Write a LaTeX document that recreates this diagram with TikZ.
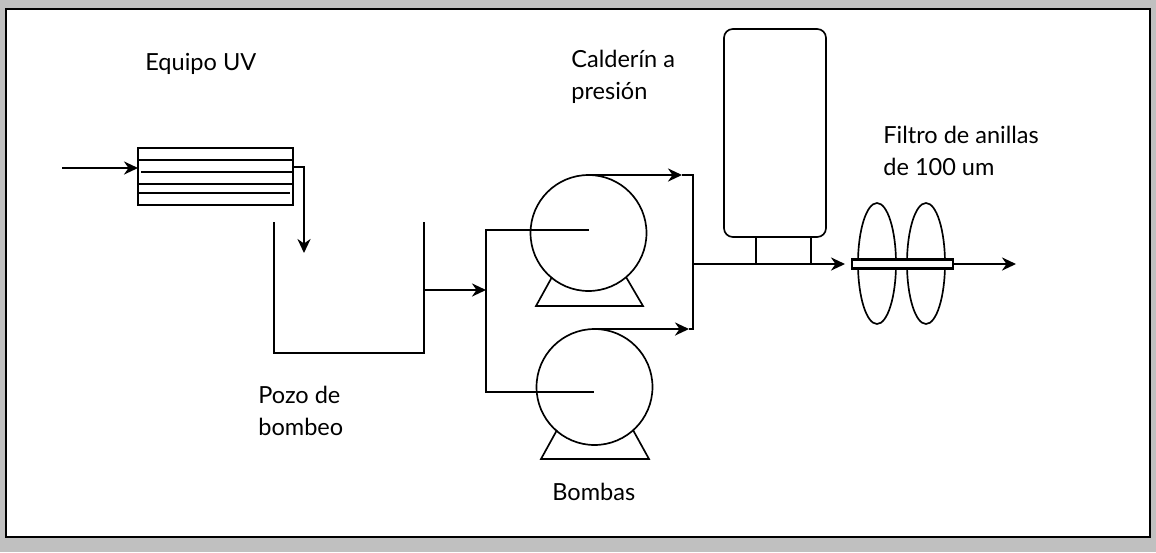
\documentclass[tikz,border=0pt]{standalone}
\usepackage{fontspec}
\setmainfont{Lato}
\usetikzlibrary{arrows.meta, shapes.geometric}
\tikzset{
	pipe/.style={draw, line width=0.95pt},
	flow/.style={pipe, -{Stealth[length=8pt, width=7.5pt]}},
	label/.style={draw=none, inner sep=0pt, anchor=north west, align=left, font=\fontsize{13.4pt}{18.2pt}\selectfont},
	pumpbody/.style={circle, draw, line width=0.95pt, minimum size=2.32cm, inner sep=0pt, outer sep=0pt},
	lobe/.style={ellipse, draw, line width=0.95pt, minimum width=0.76cm, minimum height=2.42cm, inner sep=0pt, outer sep=0pt}
}
\definecolor{panelgray}{RGB}{192,192,192}

\begin{document}
\begin{tikzpicture}[x=0.02cm, y=-0.02cm]
			\fill[panelgray] (0,0) rectangle (1156,552);
			\draw[fill=white, line width=1.2pt] (6,9) rectangle (1150,537);
			
			% equipo UV
			\node[draw, line width=1.1pt, minimum width=3.1cm, minimum height=1.14cm, inner sep=0pt, outer sep=0pt] (uv) at (215.5,176.5) {};
			\draw[pipe] (138,160) -- (293,160);
			\draw[pipe] (141,172) -- (293,172);
			\draw[pipe] (138,184) -- (293,184);
			\draw[pipe] (138,193) -- (290,193);
			
			\coordinate (inlet) at (62,168);
			\coordinate (uvin) at (138,168);
			\coordinate (uvout) at (293,167);
			\coordinate (uvbend) at (304,167);
			\coordinate (drop) at (304,253);
			\draw[flow] (inlet) -- (uvin);
			\draw[flow] (uvout) -- (uvbend) -- (drop);
			
			% pozo
			\coordinate (wellA) at (274,222);
			\coordinate (wellB) at (274,353);
			\coordinate (wellC) at (424,353);
			\coordinate (wellD) at (424,222);
			\coordinate (wellout) at (424,290);
			\draw[pipe, line width=1.1pt] (wellA) -- (wellB) -- (wellC) -- (wellD);
			
			% bombas
			\node[pumpbody] (pump1) at (588.5,233) {};
			\node[pumpbody] (pump2) at (594.5,387) {};
			\draw[pipe] (552,277) -- (536,306) -- (643,306) -- (626,277);
			\draw[pipe] (557,430) -- (541,459) -- (649,459) -- (633,430);
			
			\coordinate (header) at (486,290);
			\coordinate (headerA) at (486,230);
			\coordinate (headerB) at (486,392);
			\coordinate (inA) at (589,230);
			\coordinate (inB) at (594,392);
			\draw[flow] (wellout) -- (header);
			\draw[pipe] (inA) -- (headerA) -- (headerB) -- (inB);
			
			\coordinate (tipA) at (682,175);
			\coordinate (tipB) at (689,329);
			\coordinate (joinA) at (693,175);
			\coordinate (joinB) at (693,329);
			\coordinate (join) at (693,264);
			\draw[flow] (pump1.north) -- (tipA);
			\draw[flow] (pump2.north) -- (tipB);
			\draw[pipe] (tipA) -- (joinA) -- (joinB) -- (tipB);
			
			% calderin
			\node[draw, rounded corners=5pt, line width=0.95pt, minimum width=2.04cm, minimum height=4.16cm, inner sep=0pt, outer sep=0pt] (tank) at (775,133) {};
			\coordinate (legA) at (756,264);
			\coordinate (legB) at (811,264);
			\draw[pipe] (legA) -- (legA |- tank.south);
			\draw[pipe] (legB) -- (legB |- tank.south);
			
			% filtro
			\coordinate (filterin) at (845,264);
			\node[lobe] (lobe1) at (877,263.5) {};
			\node[lobe] (lobe2) at (926,263.5) {};
			\node[draw, fill=white, line width=1.4pt, minimum width=2.02cm, minimum height=0.18cm, inner sep=0pt, outer sep=0pt] (bar) at (902.5,264) {};
			\coordinate (outlet) at (1016,264);
			\draw[flow] (join) -- (filterin);
			\draw[flow] (bar.east) -- (outlet);
			
			% textos
			\node[label] (uvtext) at (145,53) {Equipo UV};
			\node[label] (welltext) at (258,386) {Pozo de\\bombeo};
			\node[label] (pumptext) at (552,483) {Bombas};
			\node[label] (tanktext) at (571,50) {Calderín a\\presión};
			\node[label] (filtertext) at (883,126) {Filtro de anillas\\de 100 um};
			
		\end{tikzpicture}
\end{document}
